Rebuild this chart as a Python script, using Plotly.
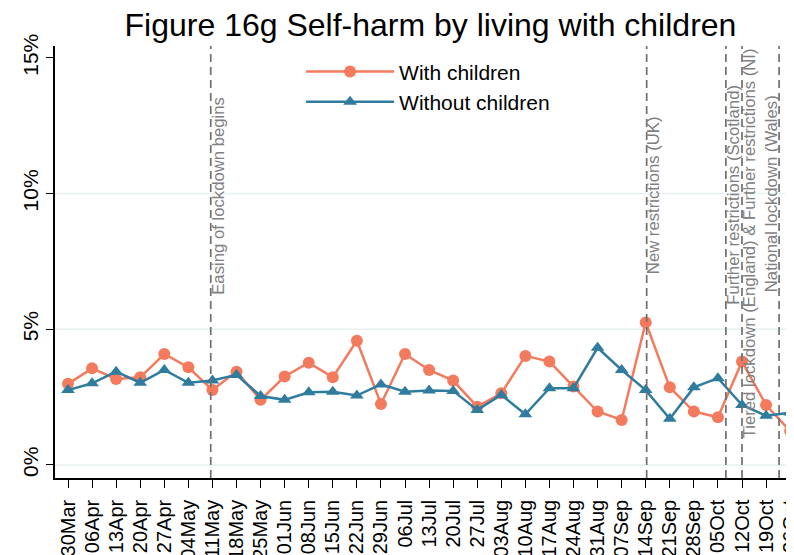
import plotly.graph_objects as go

weeks = ["30Mar", "06Apr", "13Apr", "20Apr", "27Apr", "04May", "11May", "18May",
         "25May", "01Jun", "08Jun", "15Jun", "22Jun", "29Jun", "06Jul", "13Jul",
         "20Jul", "27Jul", "03Aug", "10Aug", "17Aug", "24Aug", "31Aug", "07Sep",
         "14Sep", "21Sep", "28Sep", "05Oct", "12Oct", "19Oct", "26Oct"]

with_children = [2.99, 3.56, 3.17, 3.23, 4.09, 3.60, 2.76, 3.44, 2.40, 3.26,
                 3.77, 3.23, 4.58, 2.25, 4.09, 3.50, 3.11, 2.15, 2.64, 4.02,
                 3.81, 2.89, 1.97, 1.66, 5.25, 2.86, 1.97, 1.76, 3.81, 2.21, 1.25]

without_children = [2.76, 3.01, 3.44, 3.03, 3.50, 3.03, 3.11, 3.32, 2.54, 2.40,
                    2.68, 2.70, 2.56, 2.97, 2.70, 2.74, 2.73, 2.03, 2.58, 1.87,
                    2.83, 2.83, 4.32, 3.50, 2.76, 1.70, 2.86, 3.20, 2.21, 1.81, 1.93]

y_ticks = [0, 5, 10, 15]
y_tick_labels = ["0%", "5%", "10%", "15%"]

event_pos = [5.93, 24.04, 27.33, 28.0, 29.54]
event_labels = ["Easing of lockdown begins", "New restrictions (UK)",
                "Further restrictions (Scotland)",
                "Tiered lockdown (England) & Further restrictions (NI)",
                "National lockdown (Wales)"]
event_label_y = [9.93, 9.95, 9.97, 8.15, 10.0]
event_label_side = ["right", "right", "right", "right", "left"]

ORANGE = "#F47A5E"
BLUE = "#2F7C9E"
FONT = "Liberation Sans, Arial, sans-serif"

x = list(range(len(weeks)))

fig = go.Figure()
fig.add_trace(go.Scatter(
    x=x, y=with_children, name="With children", mode="lines+markers",
    line=dict(color=ORANGE, width=2.5),
    marker=dict(symbol="circle", size=12, color=ORANGE),
    cliponaxis=False,
))
fig.add_trace(go.Scatter(
    x=x, y=without_children, name="Without children", mode="lines+markers",
    line=dict(color=BLUE, width=2.5),
    marker=dict(symbol="triangle-up", size=12, color=BLUE),
    cliponaxis=False,
))

for gv in y_ticks[:-1]:
    fig.add_shape(type="line", xref="paper", x0=0, x1=1, yref="y", y0=gv, y1=gv,
                  line=dict(color="#E8F0F2", width=1.5), layer="below")

for p, lab, ly, side in zip(event_pos, event_labels, event_label_y, event_label_side):
    fig.add_shape(type="line", xref="x", x0=p, x1=p, yref="paper", y0=0, y1=1,
                  line=dict(color="#707070", width=1.7, dash="8px,5px"))
    if side == "right":
        anchor, shift = "left", -4
    else:
        anchor, shift = "right", 4
    fig.add_annotation(x=p, y=ly, xref="x", yref="y", text=lab, textangle=-90,
                       showarrow=False, xanchor=anchor, yanchor="middle", xshift=shift,
                       font=dict(family=FONT, size=16.7, color="#808080"))

fig.update_layout(
    width=786, height=547,
    margin=dict(l=47, r=0, t=38, b=77, autoexpand=False),
    paper_bgcolor="white", plot_bgcolor="white",
    title=dict(text="Figure 16g Self-harm by living with children",
               x=0.5375, xanchor="center", y=0.99, yanchor="top",
               font=dict(family=FONT, size=32, color="black")),
    font=dict(family=FONT, color="black"),
    legend=dict(x=0.333, y=0.9875, xanchor="left", yanchor="top",
                font=dict(family=FONT, size=21), itemwidth=88,
                bgcolor="rgba(0,0,0,0)", tracegroupgap=0),
    showlegend=True,
)
fig.update_xaxes(
    range=[-0.54, 30.16], tickmode="array", tickvals=x, ticktext=weeks,
    tickangle=-90, tickfont=dict(family=FONT, size=20, color="black"),
    ticklabelstandoff=4, ticklabeloverflow="allow",
    showgrid=False, zeroline=False, showline=True, linecolor="black", linewidth=1.5,
    ticks="outside", ticklen=8, tickcolor="black", tickwidth=1.3, automargin=False,
)
fig.update_yaxes(
    range=[-0.48, 15.44], tickmode="array", tickvals=y_ticks, ticktext=y_tick_labels,
    tickangle=-90, tickfont=dict(family=FONT, size=21, color="black"),
    showgrid=False, zeroline=False, showline=True, linecolor="black", linewidth=1.5,
    ticks="outside", ticklen=7, tickcolor="black", tickwidth=1.3, automargin=False,
)

fig.write_html("out.html")
